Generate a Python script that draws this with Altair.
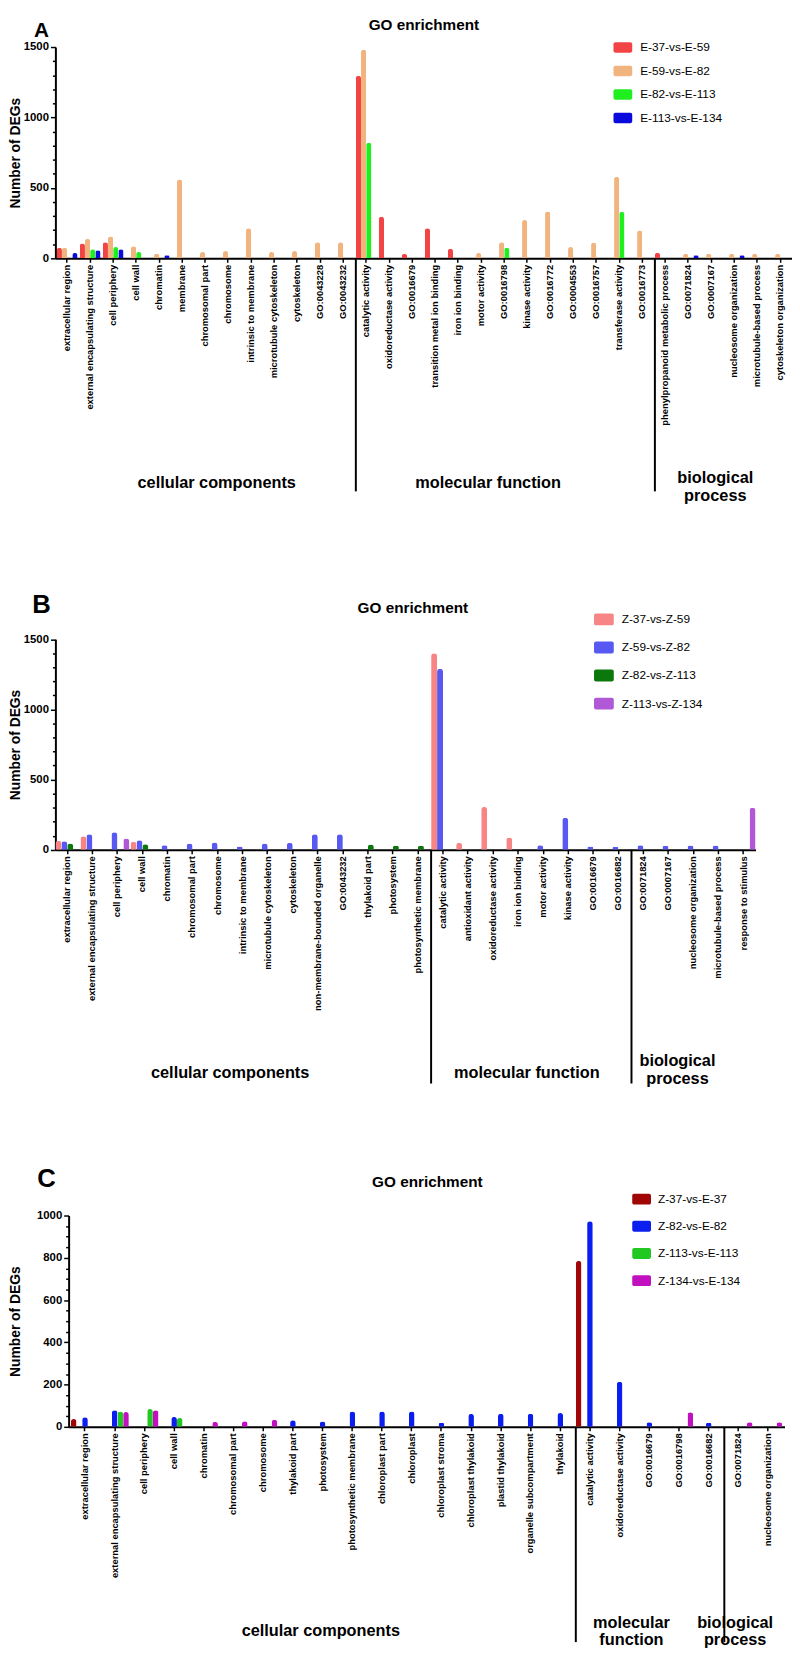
import altair as alt
import pandas as pd

FONT = "Liberation Sans"
N = None

# ---------------- Panel A data ----------------
A_categories = [
    "extracellular region", "external encapsulating structure", "cell periphery", "cell wall",
    "chromatin", "membrane", "chromosomal part", "chromosome", "intrinsic to membrane",
    "microtubule cytoskeleton", "cytoskeleton", "GO:0043228", "GO:0043232",
    "catalytic activity", "oxidoreductase activity", "GO:0016679", "transition metal ion binding",
    "iron ion binding", "motor activity", "GO:0016798", "kinase activity", "GO:0016772",
    "GO:0004553", "GO:0016757", "transferase activity", "GO:0016773",
    "phenylpropanoid metabolic process", "GO:0071824", "GO:0007167", "nucleosome organization",
    "microtubule-based process", "cytoskeleton organization",
]
A_series = ["E-37-vs-E-59", "E-59-vs-E-82", "E-82-vs-E-113", "E-113-vs-E-134"]
A_e37_e59 = [75, 105, 115, N, N, N, N, N, N, N, N, N, N, 1295, 295, 30, 213, 68, N, N, N, N, N, N, N, N, 40, N, N, N, N, N]
A_e59_e82 = [75, 138, 155, 85, 33, 560, 45, 52, 213, 45, 52, 115, 115, 1480, N, N, N, N, 38, 115, 272, 332, 80, 113, 578, 197, N, 33, 33, 33, 33, 33]
A_e82_e113 = [N, 65, 80, 45, N, N, N, N, N, N, N, N, N, 820, N, N, N, N, N, 75, N, N, N, N, 330, N, N, N, N, N, N, N]
A_e113_e134 = [38, 57, 64, N, 22, N, N, N, N, N, N, N, N, N, N, N, N, N, N, N, N, N, N, N, N, N, N, 22, N, 22, N, N]
A_group_names = ["cellular components", "molecular function", "biological\nprocess"]
A_group_starts = ["extracellular region", "catalytic activity", "phenylpropanoid metabolic process"]

# ---------------- Panel B data ----------------
B_categories = [
    "extracellular region", "external encapsulating structure", "cell periphery", "cell wall",
    "chromatin", "chromosomal part", "chromosome", "intrinsic to membrane",
    "microtubule cytoskeleton", "cytoskeleton", "non-membrane-bounded organelle", "GO:0043232",
    "thylakoid part", "photosystem", "photosynthetic membrane",
    "catalytic activity", "antioxidant activity", "oxidoreductase activity", "iron ion binding",
    "motor activity", "kinase activity", "GO:0016679", "GO:0016682",
    "GO:0071824", "GO:0007167", "nucleosome organization", "microtubule-based process",
    "response to stimulus",
]
B_series = ["Z-37-vs-Z-59", "Z-59-vs-Z-82", "Z-82-vs-Z-113", "Z-113-vs-Z-134"]
B_z37_z59 = [64, 96, N, 57, N, N, N, N, N, N, N, N, N, N, N, 1400, 50, 305, 87, N, N, N, N, N, N, N, N, N]
B_z59_z82 = [60, 110, 125, 68, 33, 45, 52, 24, 45, 50, 110, 110, N, N, N, 1290, N, N, N, 33, 228, 24, 21, 33, 28, 31, 31, N]
B_z82_z113 = [45, N, N, 40, N, N, N, N, N, N, N, N, 38, 28, 28, N, N, N, N, N, N, N, N, N, N, N, N, N]
B_z113_z134 = [N, N, 80, N, N, N, N, N, N, N, N, N, N, N, N, N, N, N, N, N, N, N, N, N, N, N, N, 300]
B_group_names = ["cellular components", "molecular function", "biological\nprocess"]
B_group_starts = ["extracellular region", "catalytic activity", "GO:0071824"]

# ---------------- Panel C data ----------------
C_categories = [
    "extracellular region", "external encapsulating structure", "cell periphery", "cell wall",
    "chromatin", "chromosomal part", "chromosome", "thylakoid part", "photosystem",
    "photosynthetic membrane", "chloroplast part", "chloroplast", "chloroplast stroma",
    "chloroplast thylakoid", "plastid thylakoid", "organelle subcompartment", "thylakoid",
    "catalytic activity", "oxidoreductase activity", "GO:0016679", "GO:0016798", "GO:0016682",
    "GO:0071824", "nucleosome organization",
]
C_series = ["Z-37-vs-E-37", "Z-82-vs-E-82", "Z-113-vs-E-113", "Z-134-vs-E-134"]
C_slots = ["Z-37-vs-E-37", "(empty)", "Z-82-vs-E-82", "Z-113-vs-E-113", "Z-134-vs-E-134"]
C_z37_e37 = [37, N, N, N, N, N, N, N, N, N, N, N, N, N, N, N, N, 785, N, N, N, N, N, N]
C_z82_e82 = [45, 78, N, 47, N, N, N, 31, 25, 73, 72, 73, 19, 61, 62, 62, 65, 973, 213, 22, N, 19, N, N]
C_z113_e113 = [N, 73, 84, 42, N, N, N, N, N, N, N, N, N, N, N, N, N, N, N, N, N, N, N, N]
C_z134_e134 = [N, 70, 79, N, 23, 26, 34, N, N, N, N, N, N, N, N, N, N, N, N, N, 69, N, 22, 22]
C_group_names = ["cellular components", "molecular\nfunction", "biological\nprocess"]
C_group_starts = ["extracellular region", "catalytic activity", "GO:0071824"]


def long_table(categories, series, columns, key):
    rows = []
    for s, vals in zip(series, columns):
        for c, v in zip(categories, vals):
            if v is not None:
                rows.append({"cat" + key: c, "series" + key: s, "value" + key: v})
    return pd.DataFrame(rows)


def panel(key, letter, categories, series, columns, colors, slots, group_names, group_starts, st):
    cat, ser, val = "cat" + key, "series" + key, "value" + key
    df = long_table(categories, series, columns, key)
    W, H, sh, ex = st["W"], st["H"], st["shift"], st["ext"]
    scale_kw = dict(domain=categories, paddingInner=st["pi"], paddingOuter=st["po"])
    if sh:
        scale_kw["range"] = [sh, sh + W]
    xscale = alt.Scale(**scale_kw)
    xaxis = alt.Axis(
        title=None, labelAngle=-90, labelFontSize=9.5, labelFontWeight="bold", labelFont=FONT,
        labelPadding=2, tickSize=4, labelLimit=400, labelColor="black",
    )
    ymax, minor, major = st["ymax"], st["minor"], st["major"]
    yaxis_kw = dict(
        title="Number of DEGs", titleFontSize=14, titleFontWeight="bold", titleFont=FONT,
        titlePadding=st["titlePad"], values=list(range(0, ymax + 1, minor)), format="d",
        labelExpr=f"datum.value % {major} === 0 ? datum.label : ''",
        labelFontSize=11.5, labelFontWeight="bold", labelFont=FONT, labelPadding=2,
        tickSize={"condition": {"test": f"datum.value % {major} === 0", "value": 5}, "value": 3},
        labelColor="black",
    )
    if sh:
        yaxis_kw["offset"] = -sh
    yaxis = alt.Axis(**yaxis_kw)
    yscale_kw = dict(domain=[0, ymax], nice=False)
    if ex:
        yscale_kw["range"] = [H + ex, ex]
    legend = alt.Legend(
        title=None, orient="none", legendX=st["legX"] + sh, legendY=st["legY"] + ex,
        direction="vertical",
        symbolType=st["sym"], symbolSize=st["symSize"], symbolStrokeWidth=0, symbolOpacity=1,
        labelFontSize=12, labelFont=FONT, labelOffset=st["labOff"], rowPadding=st["rowPad"],
        padding=0, labelColor="black",
    )
    bars = alt.Chart(df).mark_bar(
        cornerRadiusTopLeft=st["r"], cornerRadiusTopRight=st["r"]
    ).encode(
        x=alt.X(f"{cat}:N", scale=xscale, axis=xaxis),
        xOffset=alt.XOffset(f"{ser}:N", scale=alt.Scale(domain=slots)),
        y=alt.Y(f"{val}:Q", scale=alt.Scale(**yscale_kw), axis=yaxis),
        color=alt.Color(f"{ser}:N", scale=alt.Scale(domain=series, range=colors), legend=legend),
    )
    seps = alt.Chart(pd.DataFrame({cat: group_starts[1:]})).mark_rule(
        color="black", strokeWidth=2
    ).encode(
        x=alt.X(f"{cat}:N", bandPosition=0, scale=xscale, axis=xaxis),
        y=alt.value(H + ex),
        y2=alt.value(st["sepEnd"] + ex),
    )
    layers = [bars, seps]
    for name, (gx, gy) in zip(group_names, st["groupPos"]):
        layers.append(
            alt.Chart(pd.DataFrame({"t": [name]})).mark_text(
                font=FONT, fontSize=16.5, fontWeight="bold", baseline="top", align="center",
                lineBreak="\n", lineHeight=st["lh"], color="black",
            ).encode(text="t:N", x=alt.value(gx + sh), y=alt.value(gy + ex))
        )
    layers.append(
        alt.Chart(pd.DataFrame({"t": [letter]})).mark_text(
            font=FONT, fontSize=st["letterSize"], fontWeight="bold", baseline="top", align="left",
            color="black",
        ).encode(text="t:N", x=alt.value(st["letter"][0] + sh), y=alt.value(st["letter"][1] + ex))
    )
    layers.append(
        alt.Chart(pd.DataFrame({"t": ["GO enrichment"]})).mark_text(
            font=FONT, fontSize=15.5, fontWeight="bold", baseline="top", align="center", color="black"
        ).encode(text="t:N", x=alt.value(st["title"][0] + sh), y=alt.value(st["title"][1] + ex))
    )
    return alt.layer(*layers).properties(width=W + sh, height=H + ex)


def rect_path(h):
    return (f"M-0.8,-{h} L0.8,-{h} A0.2,0.2 0 0 1 1,-{h-0.2:.2f} L1,{h-0.2:.2f} "
            f"A0.2,0.2 0 0 1 0.8,{h} L-0.8,{h} A0.2,0.2 0 0 1 -1,{h-0.2:.2f} "
            f"L-1,-{h-0.2:.2f} A0.2,0.2 0 0 1 -0.8,-{h} Z")


# panel heights and one common gap between panels (calibrated on the rendered page)
H_A, H_B, H_C = 214, 213.3, 214
GAP = 1213.3 - 636 - H_B + 6.2
EXT_B = (636 - 37.7 - H_A) - (1213.3 - 636 - H_B) - 4.8

A_style = dict(
    W=746, H=H_A, shift=0, ext=0, pi=0.1, po=0.06, ymax=1500, minor=100, major=500, titlePad=1,
    r=2.5, legX=565.2, legY=-9, sym=rect_path(0.55), symSize=361, labOff=8, rowPad=7.8,
    sepEnd=450, groupPos=[(163.4, 434), (438.3, 434), (668.3, 428.6)], lh=18,
    letter=(-21.6, -27.5), letterSize=21, title=(373.2, -29),
)
B_style = dict(
    W=709, H=H_B, shift=0, ext=EXT_B, pi=0.05, po=0.0, ymax=1500, minor=100, major=500,
    titlePad=1, r=3, legX=545.5, legY=-30, sym=rect_path(0.6), symSize=400, labOff=8,
    rowPad=12.4, sepEnd=450, groupPos=[(177, 431.1), (477.4, 431.1), (630, 419.5)], lh=18,
    letter=(-23.5, -48), letterSize=26, title=(362, -39),
)
C_style = dict(
    W=725, H=H_C, shift=13.4, ext=0, pi=0.05, po=0.076, ymax=1000, minor=50, major=200,
    titlePad=14.4, r=3, legX=570.8, legY=-26.1, sym=rect_path(0.58), symSize=361, labOff=7,
    rowPad=11.5, sepEnd=432, groupPos=[(255.4, 413), (570, 405), (675, 405)], lh=17,
    letter=(-31.7, -50.3), letterSize=26, title=(363.3, -41),
)

A = panel("A", "A", A_categories, A_series, [A_e37_e59, A_e59_e82, A_e82_e113, A_e113_e134],
          ["#F24444", "#F1B47F", "#1FEE1F", "#0A0ADC"], A_series,
          A_group_names, A_group_starts, A_style)
B = panel("B", "B", B_categories, B_series, [B_z37_z59, B_z59_z82, B_z82_z113, B_z113_z134],
          ["#F78585", "#5858F2", "#0A780A", "#B158D6"], B_series,
          B_group_names, B_group_starts, B_style)
C = panel("C", "C", C_categories, C_series, [C_z37_e37, C_z82_e82, C_z113_e113, C_z134_e134],
          ["#A00606", "#0A1EF0", "#22C822", "#C010C0"], C_slots,
          C_group_names, C_group_starts, C_style)

chart = alt.concat(A, B, C, columns=1, bounds="flush", spacing=GAP).resolve_scale(
    x="independent", y="independent", xOffset="independent", color="independent"
).resolve_legend(color="independent").properties(
    padding=0, background="white"
).configure_view(strokeWidth=0).configure_axis(
    domainColor="black", domainWidth=2, tickColor="black", tickWidth=1.5, grid=False,
    titleColor="black",
)

chart.save("out.html", embed_options={"renderer": "svg", "actions": False})
